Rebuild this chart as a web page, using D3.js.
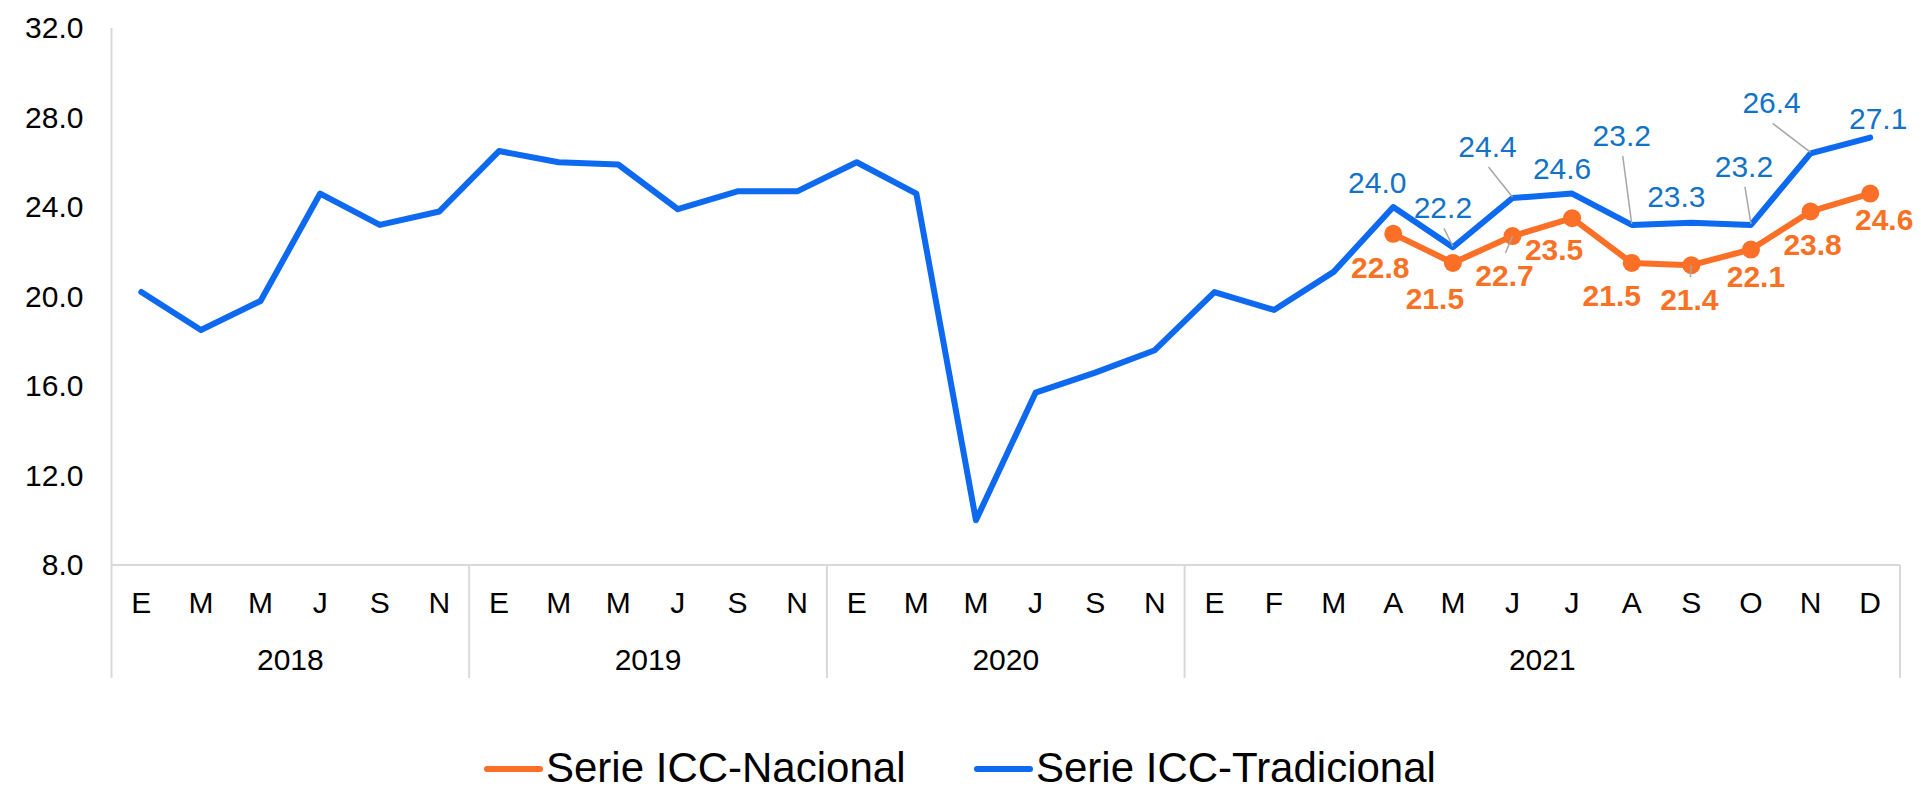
<!DOCTYPE html>
<html>
<head>
<meta charset="utf-8">
<script src="https://cdn.jsdelivr.net/npm/d3@7"></script>
<style>
  body { margin: 0; background: #fff; }
  svg { display: block; font-family: "Liberation Sans", Arial, sans-serif; }
</style>
</head>
<body>
<div id="chart"></div>
<script>
// month labels, one per category
var months = ["E","M","M","J","S","N",
              "E","M","M","J","S","N",
              "E","M","M","J","S","N",
              "E","F","M","A","M","J","J","A","S","O","N","D"];

// year groups and how many categories each spans
var yearNames = ["2018", "2019", "2020", "2021"];
var yearSizes = [6, 6, 6, 12];

// Serie ICC-Tradicional
var tradicional = [20.2, 18.5, 19.8, 24.6, 23.2, 23.8,
                   26.5, 26.0, 25.9, 23.9, 24.7, 24.7,
                   26.0, 24.6, 10.0, 15.7, 16.6, 17.6,
                   20.2, 19.4, 21.1, 24.0, 22.2, 24.4, 24.6, 23.2, 23.3, 23.2, 26.4, 27.1];

// Serie ICC-Nacional (only from abril 2021)
var nacional = [null, null, null, null, null, null,
                null, null, null, null, null, null,
                null, null, null, null, null, null,
                null, null, null, 22.8, 21.5, 22.7, 23.5, 21.5, 21.4, 22.1, 23.8, 24.6];

var yTicks = [8, 12, 16, 20, 24, 28, 32];

// label placement (offset of label centre from its point), first labelled index = 21
var blueLabelPos = [[-16,-25,0],[-10,-40,1],[-25,-52,1],[-10,-25,0],[-10,-90,1],[-15,-26,0],[-7,-59,1],[-39,-51,1],[8,-19,0]];
var orangeLabelPos = [[-13,33,0],[-18,35,0],[-8,39,1],[-18,31,0],[-20,32,0],[-2,34,1],[5,27,0],[2,33,0],[14,26,0]];
var firstLabel = 21;

var W = 1921, H = 794;
var plotLeft = 111.5, plotRight = 1900, plotTop = 28, plotBottom = 565, axisEnd = 678;

var blue = "#0d69ef", orange = "#fb7026";
var blueText = "#1273c6", orangeText = "#f97124";
var gridGray = "#d9d9d9";

var svg = d3.select("#chart").append("svg")
    .attr("width", W)
    .attr("height", H);

var idx = d3.range(months.length);

var x = d3.scaleBand().domain(idx).range([plotLeft, plotRight]).padding(0);
var y = d3.scaleLinear().domain([8, 32]).range([plotBottom, plotTop]);
var cx = function(i) { return x(i) + x.bandwidth() / 2; };

// Y axis
var yAxis = svg.append("g")
    .attr("transform", "translate(" + plotLeft + ",0)")
    .call(d3.axisLeft(y).tickValues(yTicks).tickFormat(d3.format(".1f")).tickSize(0).tickPadding(28));
yAxis.select(".domain").remove();
yAxis.selectAll("text").attr("font-size", 30).attr("fill", "#000")
    .attr("font-family", "Liberation Sans, Arial, sans-serif");

// X axis (months)
var xAxis = svg.append("g")
    .attr("transform", "translate(0," + plotBottom + ")")
    .call(d3.axisBottom(x).tickFormat(function(i) { return months[i]; }).tickSize(0).tickPadding(27));
xAxis.select(".domain").remove();
xAxis.selectAll("text").attr("font-size", 30).attr("fill", "#000")
    .attr("font-family", "Liberation Sans, Arial, sans-serif");

// axis lines
svg.append("line")
    .attr("x1", plotLeft).attr("x2", plotLeft).attr("y1", plotTop).attr("y2", axisEnd)
    .attr("stroke", gridGray).attr("stroke-width", 2);
svg.append("line")
    .attr("x1", plotLeft).attr("x2", plotRight).attr("y1", plotBottom).attr("y2", plotBottom)
    .attr("stroke", gridGray).attr("stroke-width", 2);

// year separators + labels
var start = 0;
yearNames.forEach(function(name, k) {
  var end = start + yearSizes[k];
  var x0 = x(start), x1 = x(end - 1) + x.bandwidth();
  svg.append("line")
      .attr("x1", x1).attr("x2", x1).attr("y1", plotBottom).attr("y2", axisEnd)
      .attr("stroke", gridGray).attr("stroke-width", 2);
  svg.append("text")
      .attr("x", (x0 + x1) / 2).attr("y", 670)
      .attr("text-anchor", "middle")
      .attr("font-size", 30)
      .text(name);
  start = end;
});

// lines
var line = function(vals) {
  return d3.line()
      .defined(function(i) { return vals[i] != null; })
      .x(function(i) { return cx(i); })
      .y(function(i) { return y(vals[i]); })(idx);
};

svg.append("path")
    .attr("d", line(tradicional))
    .attr("fill", "none").attr("stroke", blue).attr("stroke-width", 6)
    .attr("stroke-linejoin", "round").attr("stroke-linecap", "round");

svg.append("path")
    .attr("d", line(nacional))
    .attr("fill", "none").attr("stroke", orange).attr("stroke-width", 6)
    .attr("stroke-linejoin", "round").attr("stroke-linecap", "round");

svg.selectAll(".dot")
    .data(idx.filter(function(i) { return nacional[i] != null; }))
    .enter().append("circle")
    .attr("cx", function(i) { return cx(i); })
    .attr("cy", function(i) { return y(nacional[i]); })
    .attr("r", 9)
    .attr("fill", orange);

// data labels with leader lines
function addLabels(vals, pos, color, weight, above) {
  pos.forEach(function(p, k) {
    var i = firstLabel + k;
    var px = cx(i), py = y(vals[i]);
    var lx = px + p[0], ly = py + p[1];
    if (p[2]) {
      svg.append("line")
          .attr("x1", lx + 1).attr("y1", above ? ly + 21 : ly - 22)
          .attr("x2", px).attr("y2", above ? py - 1 : py)
          .attr("stroke", "#a6a6a6").attr("stroke-width", 1.5);
    }
    svg.append("text")
        .attr("x", lx).attr("y", ly).attr("dy", "0.36em")
        .attr("text-anchor", "middle")
        .attr("font-size", 30)
        .attr("font-weight", weight)
        .attr("fill", color)
        .text(d3.format(".1f")(vals[i]));
  });
}
addLabels(tradicional, blueLabelPos, blueText, "normal", true);
addLabels(nacional, orangeLabelPos, orangeText, "bold", false);

// legend
var legend = [["Serie ICC-Nacional", orange, 487], ["Serie ICC-Tradicional", blue, 977]];
legend.forEach(function(d) {
  svg.append("line")
      .attr("x1", d[2]).attr("x2", d[2] + 53).attr("y1", 769).attr("y2", 769)
      .attr("stroke", d[1]).attr("stroke-width", 6).attr("stroke-linecap", "round");
  svg.append("text")
      .attr("x", d[2] + 59).attr("y", 782)
      .attr("font-size", 42)
      .text(d[0]);
});
</script>
</body>
</html>
